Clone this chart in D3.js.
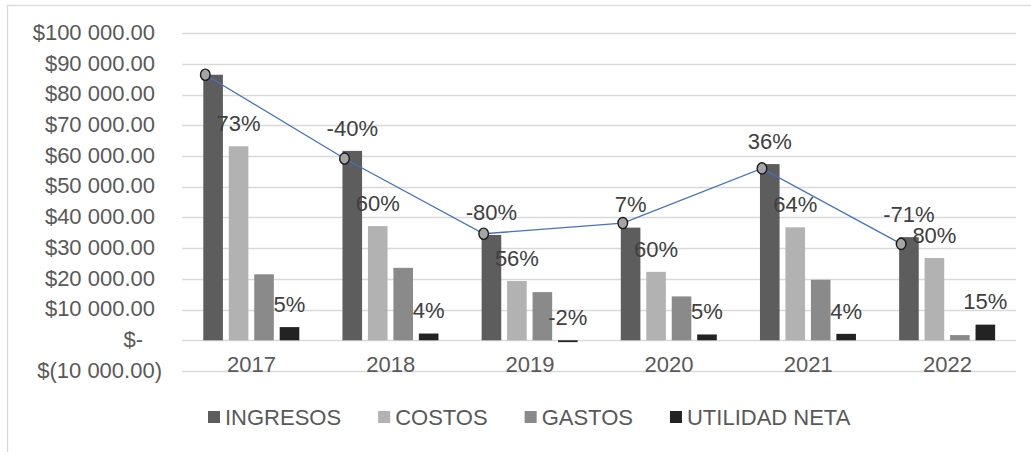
<!doctype html>
<html>
	<head>
		<meta charset="utf-8">
		<script src="https://cdnjs.cloudflare.com/ajax/libs/d3/7.8.5/d3.min.js"></script>
		<style>
			body { margin: 0; background: #fff; }
			svg { display: block; font-family: "Liberation Sans", Arial, sans-serif; }
			rect.frame { fill: none; stroke: #d9d9d9; stroke-width: 1.3; }
			line.grid { stroke: #d9d9d9; stroke-width: 1.4; }
			text.tick { fill: #595959; font-size: 22px; }
			text.tag { fill: #404040; font-size: 22px; text-anchor: middle; }
			text.legend { fill: #595959; font-size: 22px; }
			path.trend { fill: none; stroke: #4472c4; stroke-width: 1.3; }
			ellipse.marker { fill: #a5a5a5; stroke: #1a1a1a; stroke-width: 1.4; }
		</style>
	</head>
	<body>
		<svg width="1031" height="452"></svg>
		<script>
			var years = ["2017", "2018", "2019", "2020", "2021", "2022"];
			var seriesNames = ["INGRESOS", "COSTOS", "GASTOS", "UTILIDAD NETA"];
			var seriesColors = ["#5d5d5d", "#b2b2b2", "#8a8a8a", "#232323"];

			var ingresos = [86500, 61700, 34300, 36700, 57400, 33600];
			var costos = [63200, 37200, 19300, 22300, 36800, 26800];
			var gastos = [21500, 23600, 15700, 14300, 19700, 1700];
			var utilidad = [4300, 2200, -600, 1900, 2100, 5100];

			// the blue trend line drawn over the INGRESOS bars
			var trendValues = [86500, 59200, 34700, 38200, 56000, 31400];

			// data labels: INGRESOS, COSTOS and UTILIDAD NETA
			var ingresosLabels = ["", "-40%", "-80%", "7%", "36%", "-71%"];
			var costosLabels = ["73%", "60%", "56%", "60%", "64%", "80%"];
			var utilidadLabels = ["5%", "4%", "-2%", "5%", "4%", "15%"];

			var yTicks = [-10000, 0, 10000, 20000, 30000, 40000, 50000, 60000, 70000, 80000, 90000, 100000];

			var allSeries = [ingresos, costos, gastos, utilidad];
			var allLabels = [ingresosLabels, costosLabels, null, utilidadLabels];

			var svg = d3.select("svg");

			svg.append("rect")
				.attr("class", "frame")
				.attr("x", 7.5).attr("y", 5.5)
				.attr("width", 1200).attr("height", 600);

			var x0 = d3.scaleBand().domain(years).range([182, 1017]).padding(0);
			var x1 = d3.scaleBand().domain(d3.range(4)).range([21.3, 117.3]).paddingInner(0.23).paddingOuter(0);
			var y = d3.scaleLinear().domain([-10000, 100000]).range([371, 33.3]);

			var fmt = d3.format(",.2f");
			function money(v) {
				if (v === 0) return "$-";
				var s = fmt(Math.abs(v)).replace(/,/g, " ");
				return v < 0 ? "$(" + s + ")" : "$" + s;
			}

			// gridlines
			svg.selectAll("line.grid").data(yTicks).enter()
				.append("line")
				.attr("class", "grid")
				.attr("x1", 182).attr("x2", 1016)
				.attr("y1", function (d) { return Math.round(y(d)) + 0.5; })
				.attr("y2", function (d) { return Math.round(y(d)) + 0.5; });

			// y tick labels (accounting style alignment)
			svg.selectAll("text.ytick").data(yTicks).enter()
				.append("text")
				.attr("class", "tick ytick")
				.attr("text-anchor", "end")
				.attr("x", function (d) { return d < 0 ? 162 : (d === 0 ? 143 : 155); })
				.attr("y", function (d) { return y(d); })
				.attr("dy", "0.3em")
				.text(money);

			// bars
			var groups = svg.selectAll("g.year").data(years).enter()
				.append("g")
				.attr("class", "year")
				.attr("transform", function (d) { return "translate(" + x0(d) + ",0)"; });

			groups.selectAll("rect").data(function (d, i) {
				return allSeries.map(function (s, k) { return { k: k, v: s[i] }; });
			}).enter()
				.append("rect")
				.attr("x", function (d) { return x1(d.k); })
				.attr("width", x1.bandwidth())
				.attr("y", function (d) { return y(Math.max(0, d.v)); })
				.attr("height", function (d) { return Math.abs(y(d.v) - y(0)); })
				.attr("fill", function (d) { return seriesColors[d.k]; });

			// category labels
			svg.selectAll("text.xtick").data(years).enter()
				.append("text")
				.attr("class", "tick xtick")
				.attr("text-anchor", "middle")
				.attr("x", function (d) { return x0(d) + x0.bandwidth() / 2; })
				.attr("y", 372)
				.text(function (d) { return d; });

			// trend line with markers
			var pts = trendValues.map(function (v, i) {
				return [x0(years[i]) + x1(0) + 2, y(v)];
			});
			svg.append("path")
				.attr("class", "trend")
				.attr("d", d3.line()(pts));
			svg.selectAll("ellipse.marker").data(pts).enter()
				.append("ellipse")
				.attr("class", "marker")
				.attr("cx", function (d) { return d[0]; })
				.attr("cy", function (d) { return d[1]; })
				.attr("rx", 4.8).attr("ry", 5.6);

			// data labels
			allLabels.forEach(function (labels, k) {
				if (!labels) return;
				svg.selectAll(null).data(labels).enter()
					.append("text")
					.attr("class", "tag")
					.attr("x", function (d, i) { return x0(years[i]) + x1(k) + x1.bandwidth() / 2; })
					.attr("y", function (d, i) { return y(Math.max(0, allSeries[k][i])) - 23; })
					.attr("dy", "0.35em")
					.text(function (d) { return d; });
			});

			// legend
			var lx = 208;
			seriesNames.forEach(function (name, k) {
				svg.append("rect")
					.attr("x", lx).attr("y", 411)
					.attr("width", 12).attr("height", 12)
					.attr("fill", seriesColors[k]);
				var t = svg.append("text")
					.attr("class", "legend")
					.attr("x", lx + 17).attr("y", 417)
					.attr("dy", "0.35em")
					.text(name);
				lx += 17 + t.node().getComputedTextLength() + 37;
			});
		</script>
	</body>
</html>
